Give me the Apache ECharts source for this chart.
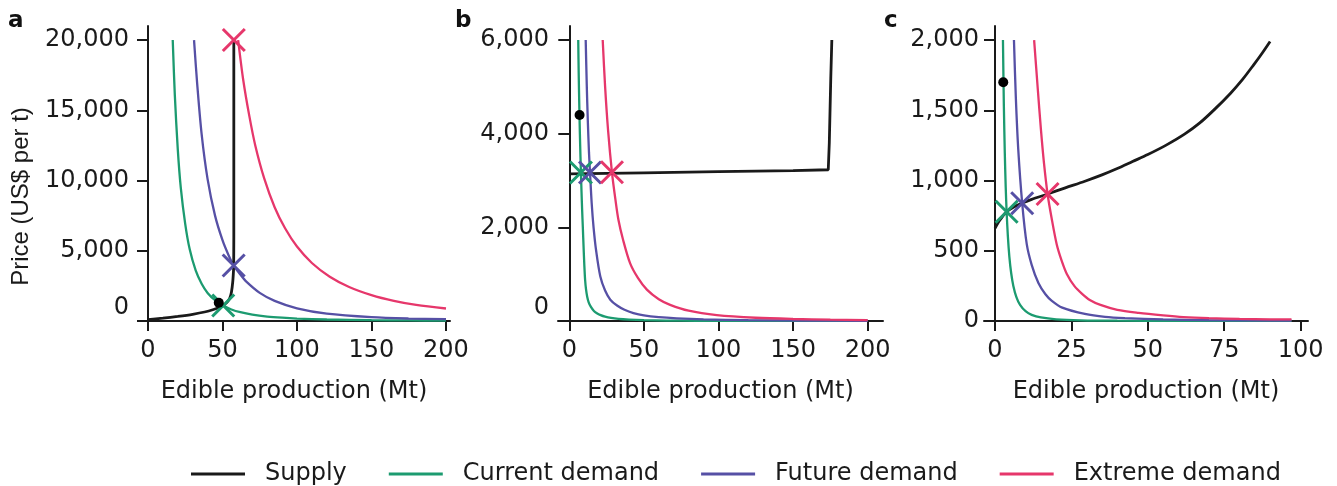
<!DOCTYPE html>
<html><head><meta charset="utf-8">
<script src="https://cdn.jsdelivr.net/npm/echarts@6/dist/echarts.min.js"></script>
<style>html,body{margin:0;padding:0;background:#fff}#c{width:1337px;height:486px}</style>
</head><body><div id="c"></div>
<script>
// ---------- data ----------
const seriesNames = ['Supply', 'Current demand', 'Future demand', 'Extreme demand'];
const panelLetters = ['a', 'b', 'c'];
const yAxisName = 'Price (US$ per t)';
const xAxisName = 'Edible production (Mt)';

// panel a
const aXTicks = [0, 50, 100, 150, 200];
const aYTicks = [0, 5000, 10000, 15000, 20000];
const aSupply = [[0,90],[10,200],[20,330],[30,480],[38,640],[44,820],[48.5,1000],[51,1150],[53,1330],[54.8,1600],[56,2050],[56.9,2800],[57.4,3600],[57.5,3950],[57.6,6000],[57.6,20000]];
const aCurrent = [[16.6,20000],[18,16100],[20,12200],[22,9500],[25,6900],[28,5100],[32,3600],[36,2650],[40,2000],[45,1480],[50.5,1100],[56,820],[62,625],[70,455],[80,318],[90,233],[100,175],[120,108],[150,60],[175,40],[200,28]];
const aFuture = [[30.9,20000],[33,16900],[36,13300],[40,10100],[45,7500],[50,5750],[54,4700],[57.5,3950],[62,3300],[66,2800],[75,2000],[85,1430],[100,900],[120,520],[150,270],[175,175],[200,130]];
const aExtreme = [[60.5,20000],[64,17100],[68,14600],[72,12500],[78,10150],[85,8100],[92,6600],[100,5300],[110,4130],[122,3150],[135,2420],[150,1840],[165,1430],[180,1140],[200,890]];
const aMarks = [[50.5,1100],[57.5,3950],[57.6,20000]];
const aObserved = [[47.5,1300]];

// panel b
const bXTicks = [0, 50, 100, 150, 200];
const bYTicks = [0, 2000, 4000, 6000];
const bSupply = [[0,3140],[50,3165],[100,3190],[150,3210],[173.6,3230],[174.3,3800],[174.8,4500],[175.3,5200],[176,6000]];
const bCurrent = [[6.0,6000],[6.3,5300],[6.7,4600],[7.1,4000],[7.5,3500],[7.8,3170],[8.2,2750],[8.6,2380],[9.1,1980],[9.6,1560],[10.1,1180],[10.6,880],[11.2,680],[12.0,520],[13.0,400],[14.5,300],[16.5,215],[18.5,165],[21,125],[24,92],[28,65],[33,45],[40,30],[50,18],[65,10],[85,5],[120,2],[200,1]];
const bFuture = [[11.0,6000],[11.7,5050],[12.4,4290],[13.2,3600],[13.9,3170],[15,2520],[16.3,1990],[18,1500],[20.8,950],[24,650],[27.5,455],[32,330],[37,240],[43,170],[50,120],[60,82],[72,57],[90,35],[120,18],[160,9],[200,5]];
const bExtreme = [[22.4,6000],[24,5010],[26,4070],[28.6,3175],[31,2575],[33,2150],[36,1740],[40.8,1230],[46,920],[52,670],[60,465],[67.6,345],[80,220],[98.9,127],[125,69],[150,43],[175,29],[200,20]];
const bMarks = [[7.8,3170],[13.9,3172],[28.6,3178]];
const bObserved = [[6.9,4400]];

// panel c
const cXTicks = [0, 25, 50, 75, 100];
const cYTicks = [0, 500, 1000, 1500, 2000];
const cSupply = [[0,660],[1.5,715],[3.8,778],[6,810],[8.9,840],[12,866],[17.2,904],[23,948],[29.4,995],[35,1040],[40,1085],[45,1135],[50,1185],[56,1252],[62,1330],[67,1410],[72,1510],[77,1620],[81,1720],[84.5,1820],[87.5,1910],[90,1990]];
const cCurrent = [[2.6,2000],[2.9,1530],[3.2,1200],[3.5,955],[3.8,778],[4.2,606],[4.7,457],[5.3,340],[6,250],[7,170],[8.2,115],[10,70],[12,44],[15,25],[20,12],[28,5],[40,2],[60,1],[97,0.3]];
const cFuture = [[6.2,2000],[6.8,1600],[7.6,1224],[8.9,838],[10.4,545],[12,400],[14.2,270],[16.5,190],[18.5,145],[22,95],[29.4,50],[36,29],[42.5,20],[55,11],[70,6],[97,3]];
const cExtreme = [[12.8,2000],[14,1650],[15,1370],[16,1130],[17.2,904],[18.5,735],[20.2,545],[21.8,430],[23.5,335],[26,248],[28.4,195],[31,150],[34.5,115],[40,80],[47,58],[55,40],[61.6,28],[70,20],[80,15],[90,12],[97,11]];
const cMarks = [[3.8,778],[8.9,838],[17.2,904]];
const cObserved = [[2.7,1700]];

// ---------- style / layout ----------
const FONT = 'DejaVu Sans';
const INK = '#1a1a1a';
const COLORS = ['#1a1a1a', '#1c9b70', '#5650a5', '#e6376b'];

const panels = [
  {xTicks:aXTicks, yTicks:aYTicks, supply:aSupply, cur:aCurrent, fut:aFuture, ext:aExtreme, marks:aMarks, obs:aObserved,
   grid:{left:138, top:26, width:312, height:295}, xmin:-6.71, xmax:202.7, ymax:21000, zeroUp:true, labelMargin:9, yName:true, supplySmooth:0.2},
  {xTicks:bXTicks, yTicks:bYTicks, supply:bSupply, cur:bCurrent, fut:bFuture, ext:bExtreme, marks:bMarks, obs:bObserved,
   grid:{left:558, top:26, width:325, height:295}, xmin:-7.57, xmax:210.3, ymax:6300, zeroUp:true, labelMargin:9, yName:false, supplySmooth:false},
  {xTicks:cXTicks, yTicks:cYTicks, supply:cSupply, cur:cCurrent, fut:cFuture, ext:cExtreme, marks:cMarks, obs:cObserved,
   grid:{left:984, top:26, width:324, height:295}, xmin:-3.6, xmax:102.4, ymax:2100, zeroUp:false, labelMargin:5, yName:false, supplySmooth:0.3}
];

const axisLineStyle = {color: INK, width: 2};
const grids = [], xAxes = [], yAxes = [], series = [];

panels.forEach((p, i) => {
  grids.push(p.grid);
  xAxes.push({
    type:'value', gridIndex:i, min:p.xmin, max:p.xmax,
    axisLine:{show:true, onZero:true, lineStyle:axisLineStyle},
    axisTick:{show:true, length:10, customValues:p.xTicks, lineStyle:axisLineStyle},
    axisLabel:{customValues:p.xTicks, margin:18, color:INK, fontFamily:FONT, fontSize:24},
    splitLine:{show:false},
    name:xAxisName, nameLocation:'middle', nameGap:59,
    nameTextStyle:{fontFamily:FONT, fontSize:24, color:INK}
  });
  const y = {
    type:'value', gridIndex:i, min:0, max:p.ymax,
    axisLine:{show:true, onZero:true, lineStyle:axisLineStyle},
    axisTick:{show:true, length:11, customValues:p.yTicks, lineStyle:axisLineStyle},
    axisLabel:{
      customValues:p.yTicks, margin:p.labelMargin, color:INK, fontFamily:FONT, fontSize:24,
      formatter: v => {
        const s = Number(v).toLocaleString('en-US');
        return (p.zeroUp && v === 0) ? '{z|' + s + '}' : s;
      },
      rich:{z:{padding:[0,0,26,0], fontFamily:FONT, fontSize:24, color:INK}}
    },
    splitLine:{show:false}
  };
  if (p.yName) {
    y.name = yAxisName; y.nameLocation = 'middle'; y.nameGap = 105;
    y.nameTextStyle = {fontFamily:'Liberation Sans', fontSize:24, color:INK, padding:[0,46,0,0]};
  }
  yAxes.push(y);

  const lines = [p.supply, p.cur, p.fut, p.ext];
  lines.forEach((d, k) => {
    series.push({
      type:'line', name:seriesNames[k], xAxisIndex:i, yAxisIndex:i, data:d,
      showSymbol:false, symbol:'none', smooth: k === 0 ? p.supplySmooth : 0.3,
      lineStyle:{color:COLORS[k], width: k === 0 ? 2.8 : 2.3},
      itemStyle:{color:COLORS[k]}, z: k === 0 ? 3 : 2, silent:true, clip:true
    });
  });
  p.marks.forEach((m, k) => {
    series.push({
      type:'scatter', name:'eq-' + i + '-' + k, xAxisIndex:i, yAxisIndex:i, data:[m],
      symbol:'path://M0,0L10,10M10,0L0,10', symbolSize:22,
      itemStyle:{color:'none', borderColor:COLORS[k + 1], borderWidth:3, opacity:1}, z:5, silent:true
    });
  });
  series.push({
    type:'scatter', name:'obs-' + i, xAxisIndex:i, yAxisIndex:i, data:p.obs,
    symbol:'circle', symbolSize:10, itemStyle:{color:'#000', opacity:1}, z:6, silent:true
  });
});

const option = {
  animation:false,
  backgroundColor:'#fff',
  title: panelLetters.map((t, i) => ({
    text:t, left:[8, 455, 884][i], top:10, padding:0,
    textStyle:{fontFamily:FONT, fontWeight:'bold', fontSize:23, color:'#111'}
  })),
  legend:{
    data:seriesNames, left:186, top:457, itemWidth:54, itemHeight:3, itemGap:42, icon:'rect',
    selectedMode:false,
    textStyle:{fontFamily:FONT, fontSize:24, color:INK, padding:[0,0,0,15], lineHeight:24}
  },
  grid:grids, xAxis:xAxes, yAxis:yAxes, series:series
};

const chart = echarts.init(document.getElementById('c'), null, {renderer:'canvas'});
chart.setOption(option);
</script>
</body></html>
